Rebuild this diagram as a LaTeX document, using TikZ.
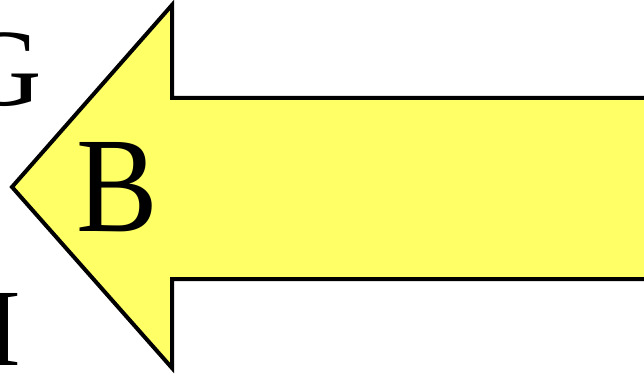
\documentclass[tikz,border=0pt]{standalone}
\usepackage{fontspec}
\setmainfont{Liberation Serif}
\usepackage{xcolor}
\usepackage{tikz}
\usetikzlibrary{calc}

\definecolor{arrowyellow}{HTML}{FFFF66}

\begin{document}
\begin{tikzpicture}[
    x=1pt,y=1pt,
    bigarrow/.style={draw=black,fill=arrowyellow,line width=4pt,line join=miter},
    biglabel/.style={inner sep=0pt,xscale=0.9,font=\fontsize{136}{136}\selectfont},
    sidelabel/.style={inner sep=0pt,font=\fontsize{110}{110}\selectfont},
]
    \useasboundingbox (0,0) rectangle (644,375);
    \clip (0,0) rectangle (644,375);

    % arrow pointing left, shaft runs off the right edge
    \coordinate (tip) at (12,188);
    \draw[bigarrow] (tip) -- (172,370) -- (172,277) -- (660,277)
        -- (660,96) -- (172,96) -- (172,7) -- cycle;

    \node[biglabel] (lblB) at (117,188) {B};
    \node[sidelabel,anchor=base east] (lblG) at (42,269) {G};
    \node[sidelabel,anchor=base east] (lblH) at (21,10) {H};
\end{tikzpicture}
\end{document}
